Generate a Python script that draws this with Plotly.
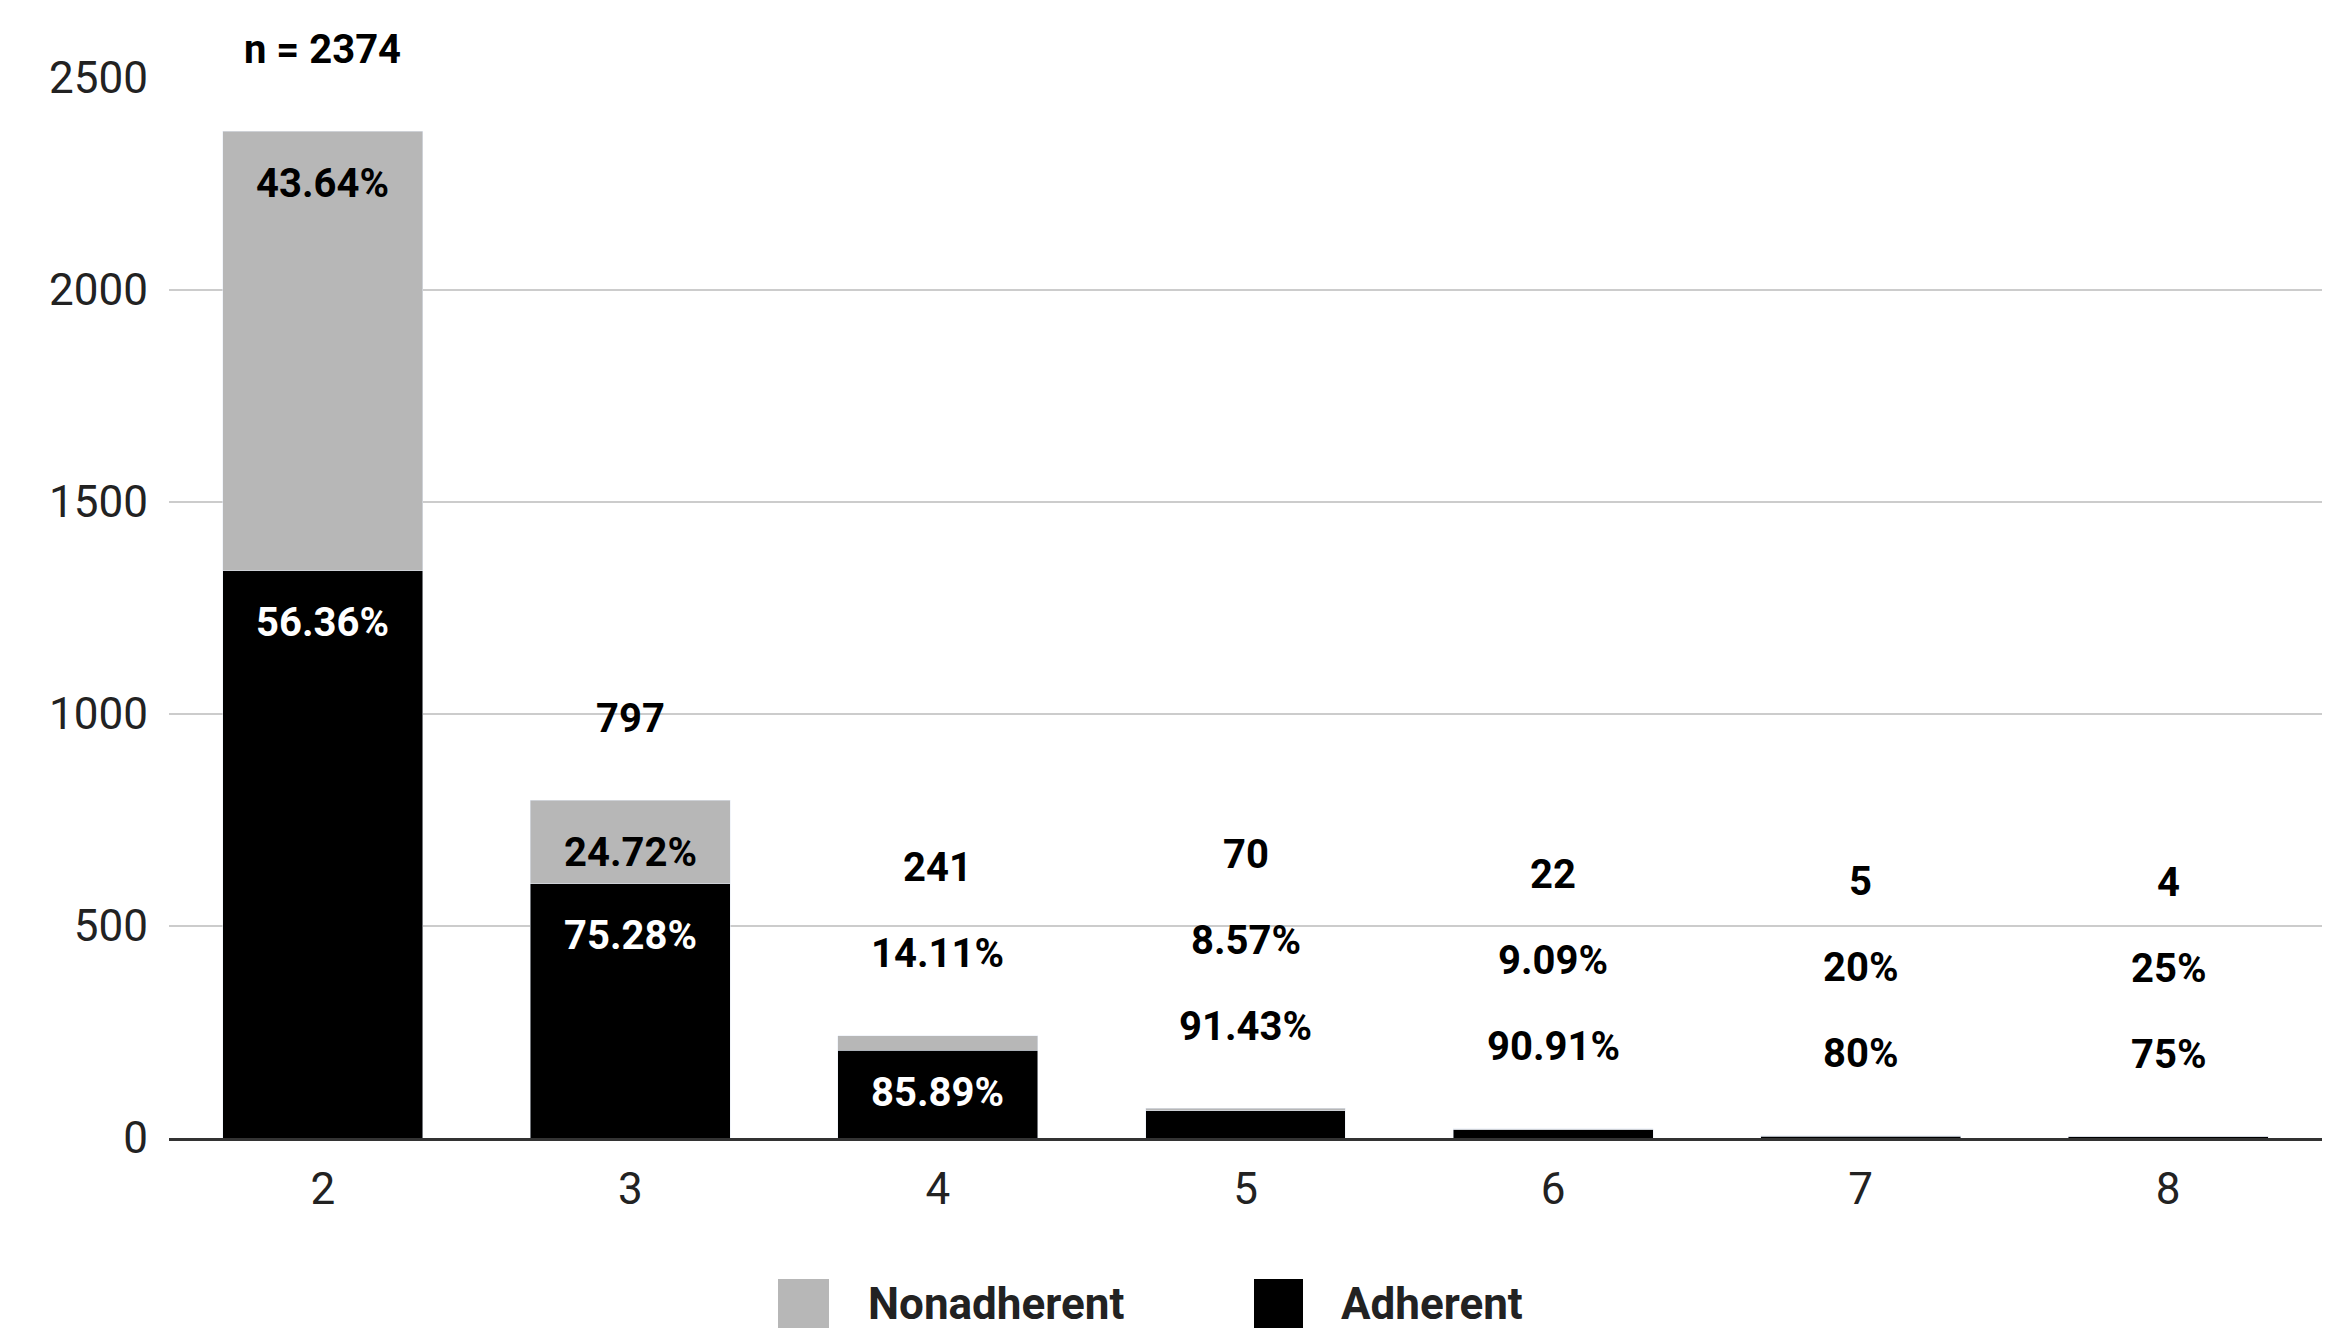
import plotly.graph_objects as go

categories = ["2", "3", "4", "5", "6", "7", "8"]
totals = [2374, 797, 241, 70, 22, 5, 4]
adherent = [1338, 600, 207, 64, 20, 4, 3]
nonadherent = [1036, 197, 34, 6, 2, 1, 1]
adh_pct = ["56.36%", "75.28%", "85.89%", "91.43%", "90.91%", "80%", "75%"]
non_pct = ["43.64%", "24.72%", "14.11%", "8.57%", "9.09%", "20%", "25%"]
total_labels = ["n = 2374", "797", "241", "70", "22", "5", "4"]

FONT = "Roboto"
fig = go.Figure()
fig.add_bar(x=categories, y=adherent, name="Adherent", marker_color="#000000", width=0.65, showlegend=False)
fig.add_bar(x=categories, y=nonadherent, name="Nonadherent", marker_color="#b7b7b7", width=0.65, showlegend=False)

ann = []
lbl = dict(size=40, family=FONT)
for i, c in enumerate(categories):
    t = totals[i]
    if i < 2:
        ann.append(dict(x=i, y=t, text=f"<b>{non_pct[i]}</b>", yshift=-52, font=dict(color="black", **lbl)))
        ann.append(dict(x=i, y=adherent[i], text=f"<b>{adh_pct[i]}</b>", yshift=-52, font=dict(color="white", **lbl)))
        ann.append(dict(x=i, y=t, text=f"<b>{total_labels[i]}</b>", yshift=82, font=dict(color="black", **lbl)))
    elif i == 2:
        ann.append(dict(x=i, y=adherent[i], text=f"<b>{adh_pct[i]}</b>", yshift=-42, font=dict(color="white", **lbl)))
        ann.append(dict(x=i, y=t, text=f"<b>{non_pct[i]}</b>", yshift=82, font=dict(color="black", **lbl)))
        ann.append(dict(x=i, y=t, text=f"<b>{total_labels[i]}</b>", yshift=168, font=dict(color="black", **lbl)))
    else:
        ann.append(dict(x=i, y=t, text=f"<b>{adh_pct[i]}</b>", yshift=82, font=dict(color="black", **lbl)))
        ann.append(dict(x=i, y=t, text=f"<b>{non_pct[i]}</b>", yshift=168, font=dict(color="black", **lbl)))
        ann.append(dict(x=i, y=t, text=f"<b>{total_labels[i]}</b>", yshift=254, font=dict(color="black", **lbl)))
for a in ann:
    a.update(showarrow=False, yanchor="middle", xanchor="center", xref="x", yref="y")

# manual legend (paper coords)
def px(x): return (x - 161) / 2153
def py(y): return (1130 - y) / 1060
shapes = [
    dict(type="rect", xref="paper", yref="paper", x0=px(770), x1=px(821), y0=py(1320), y1=py(1271),
         fillcolor="#b7b7b7", line_width=0),
    dict(type="rect", xref="paper", yref="paper", x0=px(1246), x1=px(1295), y0=py(1320), y1=py(1271),
         fillcolor="#000000", line_width=0),
]
for xs, txt in [(858, "Nonadherent"), (1331, "Adherent")]:
    ann.append(dict(xref="paper", yref="paper", x=px(xs), y=py(1296), xanchor="left", yanchor="middle",
                    text=f"<b>{txt}</b>", showarrow=False, font=dict(size=44, family=FONT, color="#222")))

fig.update_layout(
    barmode="stack",
    width=2332, height=1340,
    margin=dict(l=161, r=18, t=70, b=210),
    plot_bgcolor="white", paper_bgcolor="white",
    font=dict(family=FONT, size=40, color="#222"),
    annotations=ann, shapes=shapes,
    showlegend=False,
    yaxis=dict(range=[0, 2500], dtick=500, gridcolor="#cccccc", gridwidth=2,
               zeroline=False, tickfont=dict(size=44, color="#222"), ticklabelstandoff=20),
    xaxis=dict(type="category", range=[-0.5, 6.5], showline=True, linecolor="#333", linewidth=3,
               tickfont=dict(size=44, color="#222"), ticklabelstandoff=10),
)
fig.write_html("out.html")
